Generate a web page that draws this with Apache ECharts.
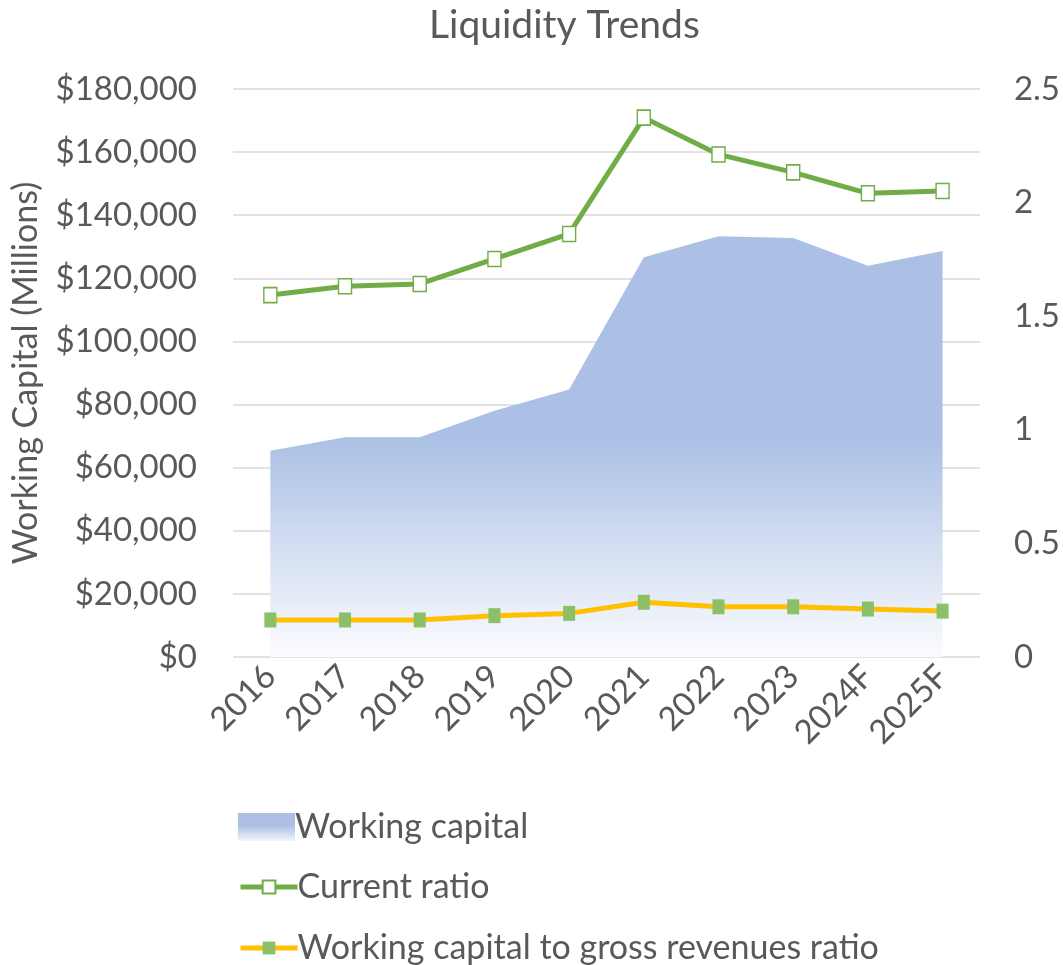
<!DOCTYPE html>
<html>
<head>
<meta charset="utf-8">
<script src="https://cdn.jsdelivr.net/npm/echarts@6/dist/echarts.min.js"></script>
<style>html,body{margin:0;padding:0;background:#fff}#c{width:1063px;height:965px}</style>
</head>
<body>
<div id="c"></div>
<script>
const categories = ['2016','2017','2018','2019','2020','2021','2022','2023','2024F','2025F'];
const workingCapital = [65400, 69600, 69600, 78000, 84800, 126700, 133300, 132800, 124000, 128700];
const currentRatio = [1.593, 1.632, 1.642, 1.752, 1.862, 2.374, 2.212, 2.133, 2.041, 2.051];
const wcToRevenue = [0.163, 0.163, 0.163, 0.182, 0.192, 0.241, 0.221, 0.221, 0.211, 0.202];
const seriesNames = ['Working capital', 'Current ratio', 'Working capital to gross revenues ratio'];

const FONT = 'Lato, "Open Sans", sans-serif';
const TXT = '#595959';
const FS = 33;
function makeLegend(top, h, item) {
  return {
    orient: 'horizontal', left: 238, top: top, itemWidth: 57, itemHeight: h,
    padding: 0,
    textStyle: {fontFamily: FONT, fontSize: 34, color: TXT, padding: [0, 0, 0, -5]},
    data: [item]
  };
}
const chart = echarts.init(document.getElementById('c'), null, {renderer: 'canvas'});
chart.setOption({
  animation: false,
  backgroundColor: '#ffffff',
  title: {
    text: 'Liquidity Trends', left: 424, top: 1,
    textStyle: {fontFamily: FONT, fontSize: 39, fontWeight: 'normal', color: TXT}
  },
  grid: {left: 233, right: 83, top: 89, bottom: 308},
  legend: [
    makeLegend(810, 28, {name: seriesNames[0], icon: 'rect'}),
    makeLegend(870, 16, {name: seriesNames[1], lineStyle: {width: 5}}),
    makeLegend(931, 16, {name: seriesNames[2], lineStyle: {width: 5}})
  ],
  xAxis: {
    type: 'category', data: categories, boundaryGap: true,
    axisLine: {show: false}, axisTick: {show: false},
    axisLabel: {rotate: 45, fontFamily: FONT, fontSize: FS, color: TXT, margin: 14, interval: 0}
  },
  yAxis: [
    {
      type: 'value', min: 0, max: 180000, interval: 20000,
      name: 'Working Capital (Millions)', nameLocation: 'middle', nameGap: 190, nameRotate: 90,
      nameTextStyle: {fontFamily: FONT, fontSize: 34, color: TXT},
      axisLine: {show: false}, axisTick: {show: false},
      splitLine: {lineStyle: {color: '#d9d9d9', width: 1.5}},
      axisLabel: {fontFamily: FONT, fontSize: FS, color: TXT, margin: 36,
        formatter: v => '$' + v.toLocaleString('en-US')}
    },
    {
      type: 'value', min: 0, max: 2.5, interval: 0.5, position: 'right',
      axisLine: {show: false}, axisTick: {show: false}, splitLine: {show: false},
      axisLabel: {fontFamily: FONT, fontSize: FS, color: TXT, margin: 34,
        formatter: v => String(v)}
    }
  ],
  series: [
    {
      name: seriesNames[0], type: 'line', data: workingCapital, yAxisIndex: 0,
      symbol: 'none', lineStyle: {width: 0},
      itemStyle: {color: new echarts.graphic.LinearGradient(0, 0, 0, 1, [
        {offset: 0, color: '#abc0e4'}, {offset: 0.45, color: '#abc0e4'}, {offset: 1, color: '#f2f5fb'}])},
      areaStyle: {opacity: 1, color: new echarts.graphic.LinearGradient(0, 0, 0, 1, [
        {offset: 0, color: '#abc0e4'}, {offset: 0.48, color: '#abc0e4'}, {offset: 1, color: '#fbfcfe'}])}
    },
    {
      name: seriesNames[1], type: 'line', data: currentRatio, yAxisIndex: 1,
      symbol: 'rect', symbolSize: [13, 15],
      lineStyle: {color: '#70ad47', width: 5},
      itemStyle: {color: '#ffffff', borderColor: '#70ad47', borderWidth: 1.5}
    },
    {
      name: seriesNames[2], type: 'line', data: wcToRevenue, yAxisIndex: 1,
      symbol: 'rect', symbolSize: [12, 15],
      lineStyle: {color: '#ffc000', width: 5},
      itemStyle: {color: '#8cc068', borderColor: '#8cc068', borderWidth: 0}
    }
  ]
});
</script>
</body>
</html>
